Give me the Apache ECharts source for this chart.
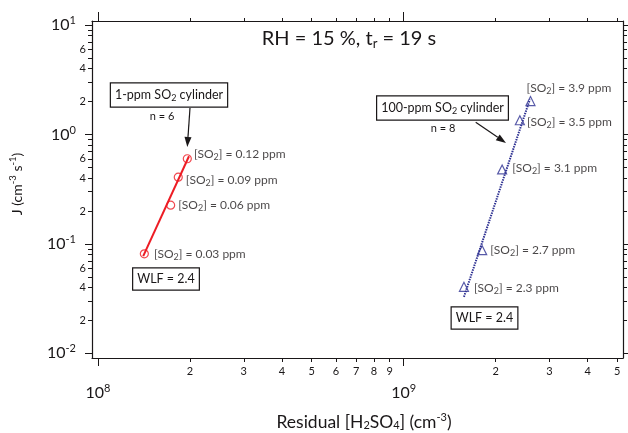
<!DOCTYPE html>
<html>
<head>
<meta charset="utf-8">
<script src="https://cdn.jsdelivr.net/npm/echarts@6/dist/echarts.min.js"></script>
<style>
  html, body { margin: 0; background: #fff; }
  #chart { width: 628px; height: 433px; }
</style>
</head>
<body>
<div id="chart"></div>
<script>
// axis ranges
const xRange = [9.56e7, 5.22e9];
const yRange = [0.00906, 10.9];

// ticks and tick labels
const xDecades = [1e8, 1e9];
const xMinor = [2e8, 3e8, 4e8, 5e8, 6e8, 7e8, 8e8, 9e8, 2e9, 3e9, 4e9, 5e9];
const xMinorLabels = [2e8, 3e8, 4e8, 5e8, 6e8, 7e8, 8e8, 9e8, 2e9, 3e9, 4e9, 5e9];
const yDecades = [0.01, 0.1, 1, 10];
const yMinor = [0.02, 0.03, 0.04, 0.05, 0.06, 0.07, 0.08, 0.09,
  0.2, 0.3, 0.4, 0.5, 0.6, 0.7, 0.8, 0.9,
  2, 3, 4, 5, 6, 7, 8, 9];
const yMinorLabels = [0.02, 0.04, 0.06, 0.2, 0.4, 0.6, 2, 4, 6];

// 1-ppm SO2 cylinder (n = 6)
const lowH2SO4 = [1.418e8, 1.729e8, 1.831e8, 1.96e8];
const lowJ = [0.0812, 0.226, 0.407, 0.600];
const lowSO2 = ['0.03', '0.06', '0.09', '0.12'];
const lowFitH2SO4 = [1.406e8, 1.985e8];
const lowFitJ = [0.0772, 0.633];

// 100-ppm SO2 cylinder (n = 8)
const highH2SO4 = [1.575e9, 1.807e9, 2.10e9, 2.40e9, 2.60e9];
const highJ = [0.0405, 0.0876, 0.479, 1.35, 2.02];
const highSO2 = ['2.3', '2.7', '3.1', '3.5', '3.9'];
const highFitH2SO4 = [1.575e9, 2.588e9];
const highFitJ = [0.0328, 2.09];

// label nudges (px), one per point
const lowLabelShift = [[1, 0], [-1, 0], [-1, 3], [-2, -5]];
const highLabelShift = [[1, 1], [-1, 0], [1, -1], [-2, 2], [-13, -13]];

const FONT = 'Lato, "Noto Sans", sans-serif';
const INK = '#1a1718';
const RED = '#ed1c24';
const BLUE = '#2e3192';

const subText = { fontFamily: FONT, fontSize: 9, color: INK, padding: [6, 0, 0, 0] };

const lead = (v) => String(Math.round(v / Math.pow(10, Math.floor(Math.log10(v) + 1e-9))));
const expo = (v) => Math.round(Math.log10(v));

function axis(pos, range, ticks, len, labels, labelOpt) {
  const a = {
    type: 'log',
    position: pos,
    min: range[0],
    max: range[1],
    axisLine: { show: false },
    splitLine: { show: false },
    axisTick: { show: true, customValues: ticks, length: len, lineStyle: { color: INK, width: 1 } },
    axisLabel: { show: false }
  };
  if (labels) {
    a.axisLabel = Object.assign({ show: true, customValues: labels, color: INK, fontFamily: FONT }, labelOpt);
  }
  return a;
}

const decadeRich = {
  b: { fontFamily: FONT, fontSize: 16, color: INK },
  e: { fontFamily: FONT, fontSize: 11, color: INK, padding: [0, 0, 9, 0] }
};
const frame = { show: true, lineStyle: { color: INK, width: 1.2 } };

const xAxes = [
  axis('bottom', xRange, xMinor, 4, xMinorLabels, { fontSize: 11, margin: 8, formatter: lead }),
  axis('bottom', xRange, xDecades, 8, xDecades, {
    margin: 25, formatter: (v) => '{b|10}{e|' + expo(v) + '}', rich: decadeRich
  }),
  axis('top', xRange, xMinor, 3, null),
  axis('top', xRange, xDecades, 9, null)
];
xAxes[0].axisLine = frame;
xAxes[2].axisLine = frame;

const yAxes = [
  axis('left', yRange, yMinor, 4, yMinorLabels, { fontSize: 11, margin: 6, formatter: lead }),
  axis('left', yRange, yDecades, 7, yDecades, {
    margin: 16, formatter: (v) => '{b|10}{e|' + expo(v) + '}', rich: decadeRich
  }),
  axis('right', yRange, yMinor, 4, null),
  axis('right', yRange, yDecades, 6, null)
];
yAxes[0].axisLine = frame;
yAxes[2].axisLine = frame;

function pointData(xs, ys, shifts) {
  return xs.map((x, i) => ({ value: [x, ys[i]], label: { offset: shifts[i] } }));
}
const pairs = (xs, ys) => xs.map((x, i) => [x, ys[i]]);

const so2Label = (names) => ({
  show: true,
  position: 'right',
  distance: 4,
  fontFamily: FONT,
  fontSize: 12,
  color: INK,
  formatter: (p) => '[SO{s|2}] = ' + names[p.dataIndex] + ' ppm',
  rich: { s: subText }
});

function arrow(x1, y1, x2, y2) {
  const ang = Math.atan2(y2 - y1, x2 - x1);
  const L = 10, W = 3.5;
  const bx = x2 - L * Math.cos(ang), by = y2 - L * Math.sin(ang);
  const nx = -Math.sin(ang) * W, ny = Math.cos(ang) * W;
  return [
    { type: 'line', shape: { x1, y1, x2: bx, y2: by }, style: { stroke: INK, lineWidth: 1.2 } },
    { type: 'polygon', shape: { points: [[x2, y2], [bx + nx, by + ny], [bx - nx, by - ny]] }, style: { fill: INK } }
  ];
}

function boxText(x, y, text, rich) {
  return {
    type: 'text', x, y,
    style: {
      text, rich, fontFamily: FONT, fontSize: 12.5, fill: INK,
      align: 'center', verticalAlign: 'middle',
      borderColor: INK, borderWidth: 1.2, padding: [4, 4, 4, 4], backgroundColor: '#fff'
    }
  };
}
function plainText(x, y, text, size, rich, rot) {
  return {
    type: 'text', x, y, rotation: rot || 0,
    style: { text, rich, fontFamily: FONT, fontSize: size, fill: INK, align: 'center', verticalAlign: 'middle' }
  };
}

const chart = echarts.init(document.getElementById('chart'), null, { renderer: 'canvas' });
chart.setOption({
  animation: false,
  backgroundColor: '#fff',
  grid: { left: 92, right: 5, top: 21, bottom: 75, containLabel: false },
  xAxis: xAxes,
  yAxis: yAxes,
  series: [
    {
      type: 'line', data: pairs(lowFitH2SO4, lowFitJ), showSymbol: false,
      lineStyle: { color: RED, width: 2 }, z: 2
    },
    {
      type: 'scatter', data: pointData(lowH2SO4, lowJ, lowLabelShift),
      symbol: 'circle', symbolSize: 8,
      itemStyle: { color: 'rgba(0,0,0,0)', borderColor: RED, borderWidth: 1.2 },
      label: so2Label(lowSO2), z: 3
    },
    {
      type: 'line', data: pairs(highFitH2SO4, highFitJ), showSymbol: false,
      lineStyle: { color: BLUE, width: 2, type: [1.5, 1] }, z: 2
    },
    {
      type: 'scatter', data: pointData(highH2SO4, highJ, highLabelShift),
      symbol: 'triangle', symbolSize: 9,
      itemStyle: { color: 'rgba(0,0,0,0)', borderColor: BLUE, borderWidth: 1.2 },
      label: so2Label(highSO2), z: 3
    }
  ],
  graphic: [
    plainText(349, 39, 'RH = 15 %, t{s|r} = 19 s', 20, {
      s: { fontFamily: FONT, fontSize: 13, fill: INK, padding: [9, 0, 0, 0] }
    }),
    boxText(169, 95, '1-ppm SO{s|2} cylinder', { s: subText }),
    plainText(162, 116, 'n = 6', 11),
    ...arrow(190, 108, 187.3, 147),
    boxText(166, 279, 'WLF = 2.4'),
    boxText(442.5, 108, '100-ppm SO{s|2} cylinder', { s: subText }),
    plainText(443, 128, 'n = 8', 11),
    ...arrow(475.7, 122.3, 506, 143),
    boxText(484.5, 318, 'WLF = 2.4'),
    plainText(364, 422, 'Residual [H{s|2}SO{s|4}] (cm{p|-3})', 17.5, {
      s: { fontFamily: FONT, fontSize: 11, fill: INK, padding: [7, 0, 0, 0] },
      p: { fontFamily: FONT, fontSize: 11, fill: INK, padding: [0, 0, 10, 0] }
    }),
    plainText(17, 184, 'J (cm{p|-3} s{p|-1})', 14, {
      p: { fontFamily: FONT, fontSize: 9.5, fill: INK, padding: [0, 0, 9, 0] }
    }, Math.PI / 2)
  ]
});
</script>
</body>
</html>
